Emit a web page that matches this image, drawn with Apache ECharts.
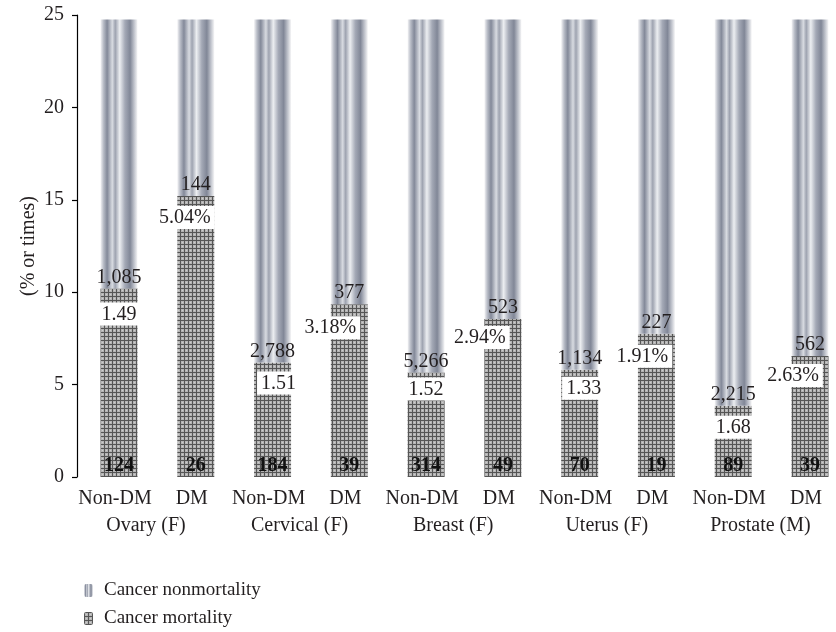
<!DOCTYPE html>
<html>
<head>
<meta charset="utf-8">
<title>Cancer mortality by DM status</title>
<script src="https://cdn.jsdelivr.net/npm/echarts@6/dist/echarts.min.js"></script>
<style>
  html, body { margin: 0; padding: 0; background: #fff; }
  #chart { width: 836px; height: 632px; }
</style>
</head>
<body>
<div id="chart"></div>
<script>
// Cancer sites and DM status groups
const sites = ['Ovary (F)', 'Cervical (F)', 'Breast (F)', 'Uterus (F)', 'Prostate (M)'];
const groups = ['Non-DM', 'DM'];

// Bar heights (% or times), one per site/group in order
const mortality = [10.2, 15.2, 6.2, 9.35, 5.65, 8.55, 5.8, 7.75, 3.85, 6.55];
const nonmortality = [14.55, 9.55, 18.55, 15.4, 19.1, 16.2, 18.95, 17.0, 20.9, 18.2];

// Patient counts and deaths
const patients = [1085, 144, 2788, 377, 5266, 523, 1134, 227, 2215, 562];
const deaths = [124, 26, 184, 39, 314, 49, 70, 19, 89, 39];

// Ratio / difference annotations
const ratios = ['1.49', '5.04%', '1.51', '3.18%', '1.52', '2.94%', '1.33', '1.91%', '1.68', '2.63%'];

// Y-axis ticks
const yTicks = [0, 5, 10, 15, 20, 25];

// Shift of each ratio box relative to its bar top (px)
const ratioShift = [[0, 9], [-11, 5], [6, 4], [-19, 7], [0, 0], [-23, 2], [4, 2], [-14, 6], [0, 5], [-17, 3]];

const categories = [];
sites.forEach(s => groups.forEach(g => categories.push(s + '|' + g)));

const FONT = 'Liberation Serif';
const INK = '#231f20';

// Cross-hatched fill for the mortality segment
function hatchPattern() {
  const c = document.createElement('canvas');
  c.width = 4; c.height = 4;
  const ctx = c.getContext('2d');
  ctx.fillStyle = '#b4b4b4';
  ctx.fillRect(0, 0, 4, 4);
  ctx.fillStyle = '#cdcdcd';
  ctx.fillRect(2, 2, 1, 1);
  ctx.fillStyle = '#555555';
  ctx.fillRect(0, 0, 4, 1);
  ctx.fillRect(0, 0, 1, 4);
  return { image: c, repeat: 'repeat' };
}

// Metallic double-cylinder shading for the nonmortality segment
const cylinder = new echarts.graphic.LinearGradient(0, 0, 1, 0, [
  { offset: 0.00, color: '#f4f4f6' },
  { offset: 0.08, color: '#b9bdc7' },
  { offset: 0.18, color: '#838999' },
  { offset: 0.32, color: '#d8dbe1' },
  { offset: 0.40, color: '#9ea3b0' },
  { offset: 0.52, color: '#eceef1' },
  { offset: 0.66, color: '#a4a9b6' },
  { offset: 0.80, color: '#818797' },
  { offset: 0.92, color: '#c6c9d1' },
  { offset: 1.00, color: '#f6f6f7' }
]);

const chart = echarts.init(document.getElementById('chart'), null, { renderer: 'canvas' });

const axisText = { fontFamily: FONT, fontSize: 20, color: INK };

const option = {
  animation: false,
  backgroundColor: '#fff',
  textStyle: { fontFamily: FONT, color: INK },
  grid: [
    // bars: first and last bar centred on the grid edges
    { left: 119, right: 26, top: 15, bottom: 155, containLabel: false },
    // site names: one slot per DM / Non-DM pair
    { left: 146, right: 75.6, top: 15, bottom: 155, containLabel: false }
  ],
  legend: {
    orient: 'vertical',
    left: 84,
    top: 581,
    padding: 0,
    itemWidth: 9,
    itemHeight: 13,
    itemGap: 9,
    data: ['Cancer nonmortality', 'Cancer mortality'],
    textStyle: { fontFamily: FONT, fontSize: 19, color: INK, padding: [0, 0, 0, 6] }
  },
  xAxis: [
    {
      type: 'category',
      gridIndex: 0,
      boundaryGap: false,
      data: categories,
      axisLine: { show: false },
      axisTick: { show: false },
      axisLabel: Object.assign({
        interval: 0,
        margin: 12,
        padding: [0, 8, 0, 0],
        formatter: v => v.split('|')[1]
      }, axisText)
    },
    {
      type: 'category',
      gridIndex: 1,
      boundaryGap: false,
      data: sites,
      position: 'bottom',
      offset: 27,
      axisLine: { show: false },
      axisTick: { show: false },
      axisLabel: Object.assign({ interval: 0, margin: 12 }, axisText)
    }
  ],
  yAxis: [
    {
      type: 'value',
      gridIndex: 0,
      min: yTicks[0],
      max: yTicks[yTicks.length - 1],
      interval: yTicks[1] - yTicks[0],
      offset: 42,
      name: '(% or times)',
      nameLocation: 'middle',
      nameGap: 38,
      nameMoveOverlap: false,
      nameTextStyle: { fontFamily: FONT, fontSize: 20, color: INK },
      axisLine: { show: true, lineStyle: { color: '#000', width: 1.2 } },
      axisTick: { show: true, length: 5, lineStyle: { color: '#000', width: 1.2 } },
      axisLabel: Object.assign({ margin: 13 }, axisText),
      splitLine: { show: false }
    },
    {
      type: 'value',
      gridIndex: 1,
      show: false
    }
  ],
  series: [
    {
      name: 'Cancer mortality',
      type: 'bar',
      stack: 'total',
      barWidth: 37,
      data: mortality,
      itemStyle: { color: hatchPattern() },
      label: {
        show: true,
        position: 'insideBottom',
        distance: 1,
        fontFamily: FONT, fontSize: 20, fontWeight: 'bold', color: '#111',
        formatter: p => String(deaths[p.dataIndex])
      }
    },
    {
      name: 'Cancer nonmortality',
      type: 'bar',
      stack: 'total',
      barWidth: 37,
      data: nonmortality,
      itemStyle: { color: cylinder },
      label: {
        show: true,
        position: 'insideBottom',
        distance: 1,
        fontFamily: FONT, fontSize: 20, color: INK,
        formatter: p => patients[p.dataIndex].toLocaleString('en-US')
      }
    },
    {
      // White boxes carrying the ratio just under each mortality top
      name: 'ratio',
      type: 'bar',
      barWidth: 37,
      barGap: '-100%',
      silent: true,
      data: mortality.map((v, i) => ({
        value: v,
        label: { offset: ratioShift[i] }
      })),
      itemStyle: { color: 'rgba(0,0,0,0)' },
      label: {
        show: true,
        position: 'insideTop',
        distance: 5,
        fontFamily: FONT, fontSize: 20, color: INK,
        backgroundColor: '#fff',
        padding: [2, 4, 1, 4],
        formatter: p => ratios[p.dataIndex]
      }
    }
  ]
};

chart.setOption(option);
</script>
</body>
</html>
